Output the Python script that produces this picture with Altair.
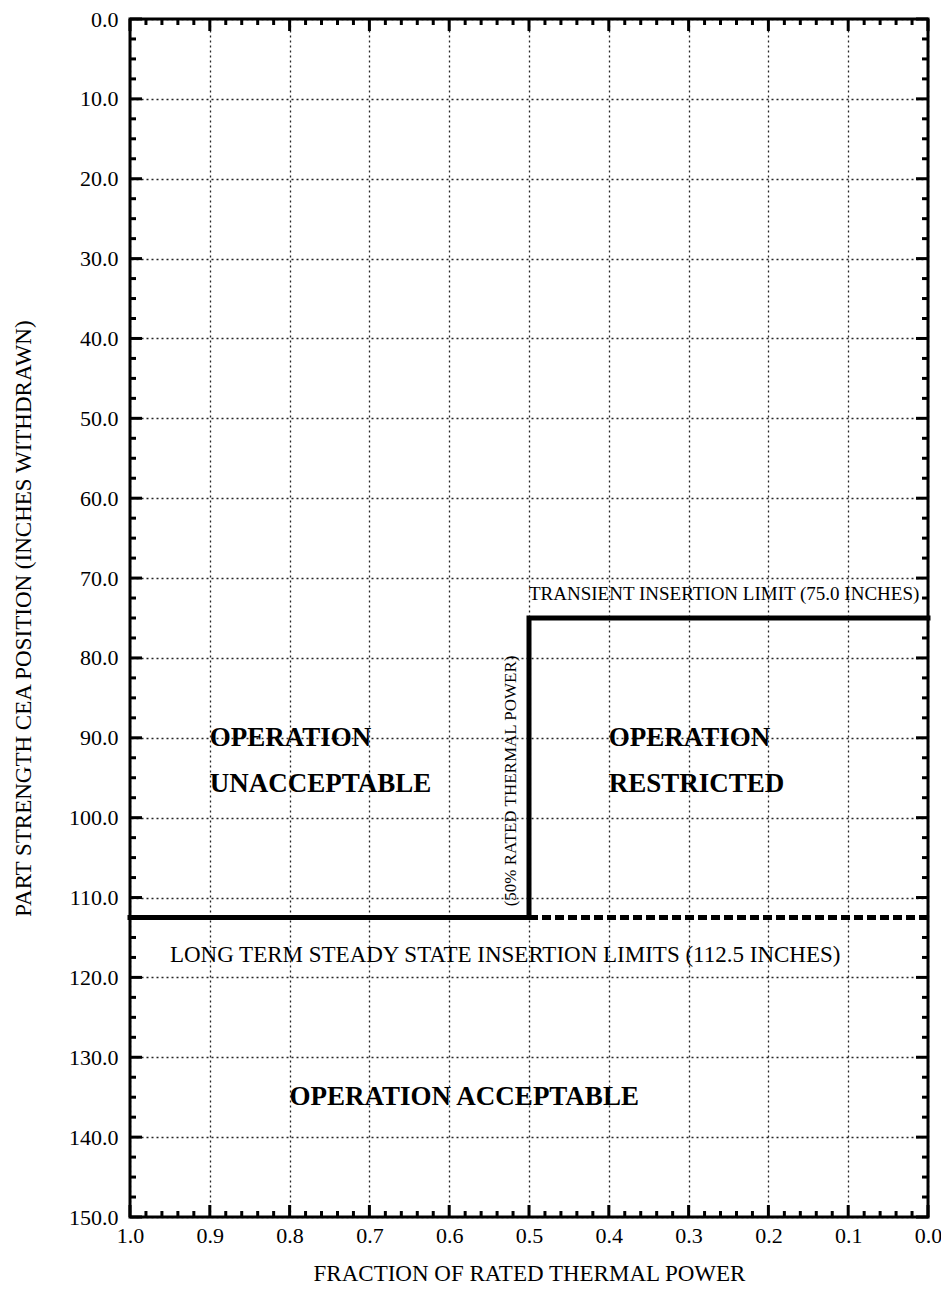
import altair as alt
import pandas as pd
import numpy as np

W, H = 798, 1198
FONT = "Liberation Serif"

# Limit lines
solid_x = [1.0, 0.5, 0.5, 0.0]
solid_y = [112.5, 112.5, 75.0, 75.0]
solid_order = [0, 1, 2, 3]
dashed_x = [0.5, 0.0]
dashed_y = [112.5, 112.5]

# Axis ticks / labels
x_major = [round(v, 2) for v in np.arange(0, 1.0001, 0.1)]
x_minor = [round(v, 2) for v in np.arange(0, 1.0001, 0.02) if round(v * 50) % 5 != 0]
y_major = [float(v) for v in range(0, 151, 10)]
y_minor = [float(v) for v in np.arange(0, 150.001, 2.5) if v % 10 != 0]

# Region labels
region_text = ["OPERATION", "UNACCEPTABLE", "OPERATION", "RESTRICTED", "OPERATION ACCEPTABLE"]
region_x = [0.9, 0.9, 0.4, 0.4, 0.8]
region_y = [90.0, 95.8, 90.0, 95.8, 135.0]

note_text = ["LONG TERM STEADY STATE INSERTION LIMITS (112.5 INCHES)",
             "TRANSIENT INSERTION LIMIT (75.0 INCHES)"]
note_x = [0.95, 0.5]
note_y = [117.2, 72.0]
note_size = [23, 19]

vert_text = ["(50% RATED THERMAL POWER)"]
vert_x = [0.522]
vert_y = [95.4]

xs = alt.Scale(domain=[0, 1], reverse=True, nice=False, zero=False)
ys = alt.Scale(domain=[0, 150], reverse=True, nice=False, zero=False)

xaxis = alt.Axis(
    values=x_major, format=".1f", grid=True, ticks=False, domain=False,
    labelFlush=False, labelOverlap=False, labelPadding=8,
    title="FRACTION OF RATED THERMAL POWER",
    titleX=W / 2, titleY=56, titleBaseline="middle", titleAlign="center",
    gridDash=[2, 3], gridColor="black", gridWidth=1.3, gridOpacity=0.85)
yaxis = alt.Axis(
    values=y_major, format=".1f", grid=True, ticks=False, domain=False,
    labelFlush=False, labelOverlap=False, labelPadding=12,
    title="PART STRENGTH CEA POSITION (INCHES WITHDRAWN)",
    titleX=-107, titleY=H / 2, titleAngle=-90, titleBaseline="middle", titleAlign="center",
    gridDash=[2, 3], gridColor="black", gridWidth=1.3, gridOpacity=0.85)


def X(f="x"):
    return alt.X(f + ":Q", scale=xs, axis=xaxis)


def Y(f="y"):
    return alt.Y(f + ":Q", scale=ys, axis=yaxis)


solid_df = pd.DataFrame({"x": solid_x, "y": solid_y, "o": solid_order})
dashed_df = pd.DataFrame({"x": dashed_x, "y": dashed_y})

base_solid = alt.Chart(solid_df).mark_line(color="black", strokeWidth=5, strokeCap="square").encode(
    x=X(), y=Y(), order="o:Q")

dashed = alt.Chart(dashed_df).mark_line(color="black", strokeWidth=5, strokeDash=[9, 4]).encode(
    x=X(), y=Y())


def xticks(vals, length):
    df = pd.DataFrame({"x": vals})
    bot = alt.Chart(df).mark_rule(color="black", strokeWidth=3).encode(
        x=X(), y=alt.value(H), y2=alt.value(H - length))
    top = alt.Chart(df).mark_rule(color="black", strokeWidth=3).encode(
        x=X(), y=alt.value(0), y2=alt.value(length))
    return [bot, top]


def yticks(vals, length):
    df = pd.DataFrame({"y": vals})
    left = alt.Chart(df).mark_rule(color="black", strokeWidth=3).encode(
        y=Y(), x=alt.value(0), x2=alt.value(length))
    right = alt.Chart(df).mark_rule(color="black", strokeWidth=3).encode(
        y=Y(), x=alt.value(W), x2=alt.value(W - length))
    return [left, right]


tick_layers = xticks(x_major, 12) + xticks(x_minor, 6) + yticks(y_major, 12) + yticks(y_minor, 6)

region_df = pd.DataFrame({"x": region_x, "y": region_y, "t": region_text})
regions = alt.Chart(region_df).mark_text(
    font=FONT, fontSize=27, fontWeight="bold", align="left", baseline="middle", color="black"
).encode(x=X(), y=Y(), text="t:N")

note_layers = []
for t, x, y, s in zip(note_text, note_x, note_y, note_size):
    d = pd.DataFrame({"x": [x], "y": [y], "t": [t]})
    note_layers.append(alt.Chart(d).mark_text(
        font=FONT, fontSize=s, align="left", baseline="middle", color="black"
    ).encode(x=X(), y=Y(), text="t:N"))

vert_df = pd.DataFrame({"x": vert_x, "y": vert_y, "t": vert_text})
vert = alt.Chart(vert_df).mark_text(
    font=FONT, fontSize=17, angle=270, align="center", baseline="middle", color="black"
).encode(x=X(), y=Y(), text="t:N")

chart = alt.layer(base_solid, dashed, *tick_layers, regions, *note_layers, vert).properties(
    width=W, height=H,
    autosize=alt.AutoSizeParams(type="none"),
    padding={"left": 122, "top": 11, "right": 13, "bottom": 74},
    background="white",
).configure_view(
    stroke="black", strokeWidth=3
).configure_axis(
    labelFont=FONT, labelFontSize=22, labelColor="black",
    titleFont=FONT, titleFontSize=23, titleFontWeight="normal", titleColor="black",
)

chart.save("out.html", embed_options={"renderer": "svg", "actions": False})
